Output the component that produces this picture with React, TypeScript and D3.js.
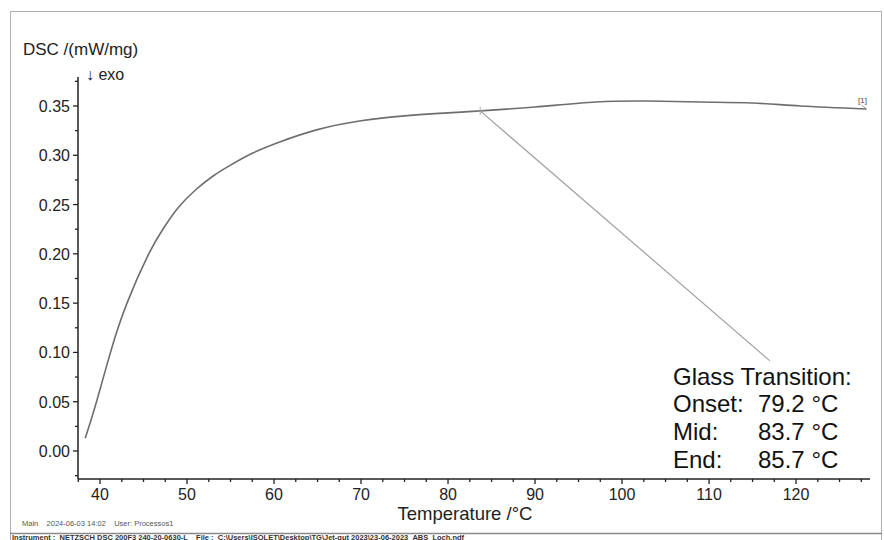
import * as d3 from "d3";
import { useEffect, useRef } from "react";

// DSC curve
const temps = [38.3, 39.6, 41.2, 43.1, 45.6, 47.3, 49.0, 51, 53, 55, 57.5, 60.5, 65, 70, 75, 80, 83.7, 90, 97, 103, 109, 115, 120.5, 128.1];
const dsc = [0.013, 0.05, 0.1, 0.15, 0.2, 0.226, 0.247, 0.265, 0.279, 0.29, 0.302, 0.313, 0.326, 0.335, 0.34, 0.343, 0.345, 0.349, 0.354, 0.355, 0.354, 0.353, 0.35, 0.347];

const xTicks = [40, 50, 60, 70, 80, 90, 100, 110, 120];
const yTicks = [0.0, 0.05, 0.1, 0.15, 0.2, 0.25, 0.3, 0.35];

// glass transition marker and leader end (data units)
const gtPoint = [83.7, 0.345];
const gtLeaderEnd = [117.0, 0.0914];
const gtLines = [
  ["Onset:", "79.2 °C"],
  ["Mid:", "83.7 °C"],
  ["End:", "85.7 °C"],
];

const W = 884;
const H = 540;
const FONT = "'Liberation Sans', Arial, sans-serif";

const App = () => {
  const svgRef = useRef(null);

  useEffect(() => {
    const svg = d3.select(svgRef.current);
    svg.selectAll("*").remove();

    const xScale = d3.scaleLinear().domain([37.47, 128.5]).range([78, 870]);
    const yScale = d3.scaleLinear().domain([-0.0284, 0.3794]).range([479, 77]);

    // outer frame
    svg
      .append("rect")
      .attr("x", 10.5)
      .attr("y", 11.5)
      .attr("width", 871)
      .attr("height", 560)
      .attr("fill", "none")
      .attr("stroke", "#b0b0b0")
      .attr("stroke-width", 1);
    svg
      .append("line")
      .attr("x1", 10)
      .attr("x2", 882)
      .attr("y1", 533.5)
      .attr("y2", 533.5)
      .attr("stroke", "#8a8a8a")
      .attr("stroke-width", 1.5);

    // axes lines
    svg
      .append("line")
      .attr("x1", 78)
      .attr("x2", 78)
      .attr("y1", 77)
      .attr("y2", 479)
      .attr("stroke", "#222")
      .attr("stroke-width", 1.5);
    svg
      .append("line")
      .attr("x1", 78)
      .attr("x2", 870)
      .attr("y1", 479)
      .attr("y2", 479)
      .attr("stroke", "#222")
      .attr("stroke-width", 1.5);

    // x ticks (major + minor every 2.5)
    const xMinor = d3.range(37.5, 128.6, 2.5).filter((v) => v >= 37.47 && v <= 128.5);
    svg
      .selectAll(".xtick")
      .data(xMinor)
      .enter()
      .append("line")
      .attr("x1", (d) => xScale(d))
      .attr("x2", (d) => xScale(d))
      .attr("y1", 479)
      .attr("y2", (d) => (d % 10 === 0 ? 484 : 482))
      .attr("stroke", "#222")
      .attr("stroke-width", 1.3);

    svg
      .selectAll(".xlabel")
      .data(xTicks)
      .enter()
      .append("text")
      .attr("x", (d) => xScale(d))
      .attr("y", 500)
      .attr("text-anchor", "middle")
      .attr("font-family", FONT)
      .attr("font-size", 16)
      .attr("fill", "#222")
      .text((d) => d);

    // y ticks (major + minor every 0.025)
    const yMinor = d3.range(-0.025, 0.376, 0.025).map((v) => Math.round(v * 1000) / 1000);
    svg
      .selectAll(".ytick")
      .data(yMinor)
      .enter()
      .append("line")
      .attr("x1", 78)
      .attr("x2", (d) => (Math.round(d * 1000) % 50 === 0 ? 73 : 75))
      .attr("y1", (d) => yScale(d))
      .attr("y2", (d) => yScale(d))
      .attr("stroke", "#222")
      .attr("stroke-width", 1.3);

    svg
      .selectAll(".ylabel")
      .data(yTicks)
      .enter()
      .append("text")
      .attr("x", 70)
      .attr("y", (d) => yScale(d) + 6)
      .attr("text-anchor", "end")
      .attr("font-family", FONT)
      .attr("font-size", 16)
      .attr("fill", "#222")
      .text((d) => d.toFixed(2));

    // axis titles
    svg
      .append("text")
      .attr("x", 23)
      .attr("y", 55)
      .attr("font-family", FONT)
      .attr("font-size", 17)
      .attr("fill", "#222")
      .text("DSC /(mW/mg)");
    svg
      .append("text")
      .attr("x", 86)
      .attr("y", 80)
      .attr("font-family", FONT)
      .attr("font-size", 16)
      .attr("fill", "#222")
      .text("↓  exo");
    svg
      .append("text")
      .attr("x", 465)
      .attr("y", 520)
      .attr("text-anchor", "middle")
      .attr("font-family", FONT)
      .attr("font-size", 18.5)
      .attr("fill", "#222")
      .text("Temperature /°C");

    // curve
    const pts = temps.map((t, i) => [t, dsc[i]]);
    const line = d3
      .line()
      .x((d) => xScale(d[0]))
      .y((d) => yScale(d[1]))
      .curve(d3.curveNatural);
    svg
      .append("path")
      .attr("d", line(pts))
      .attr("fill", "none")
      .attr("stroke", "#6e6e6e")
      .attr("stroke-width", 1.6);

    // curve label [1]
    const endX = xScale(temps[temps.length - 1]);
    const endY = yScale(dsc[dsc.length - 1]);
    svg
      .append("line")
      .attr("x1", endX)
      .attr("y1", endY)
      .attr("x2", endX - 5)
      .attr("y2", endY - 4)
      .attr("stroke", "#888")
      .attr("stroke-width", 0.8);
    svg
      .append("text")
      .attr("x", endX - 4)
      .attr("y", endY - 6)
      .attr("text-anchor", "middle")
      .attr("font-family", FONT)
      .attr("font-size", 8)
      .attr("fill", "#444")
      .text("[1]");

    // glass transition marker
    const gx = xScale(gtPoint[0]);
    const gy = yScale(gtPoint[1]);
    svg
      .append("line")
      .attr("x1", gx)
      .attr("y1", gy)
      .attr("x2", xScale(gtLeaderEnd[0]))
      .attr("y2", yScale(gtLeaderEnd[1]))
      .attr("stroke", "#a0a0a0")
      .attr("stroke-width", 1.2);
    svg
      .append("path")
      .attr("d", `M${gx - 4},${gy}H${gx + 4}M${gx},${gy - 4}V${gy + 4}`)
      .attr("stroke", "#999")
      .attr("stroke-width", 0.8);

    const ann = svg
      .append("g")
      .attr("font-family", FONT)
      .attr("font-size", 24)
      .attr("fill", "#111");
    ann.append("text").attr("x", 673).attr("y", 385).text("Glass Transition:");
    gtLines.forEach((row, i) => {
      ann.append("text").attr("x", 673).attr("y", 412 + i * 28).text(row[0]);
      ann.append("text").attr("x", 758).attr("y", 412 + i * 28).text(row[1]);
    });

    // footer
    svg
      .append("text")
      .attr("x", 22)
      .attr("y", 526)
      .attr("font-family", FONT)
      .attr("font-size", 7.5)
      .attr("fill", "#555")
      .attr("xml:space", "preserve")
      .text("Main    2024-06-03 14:02    User: Processos1");
    svg
      .append("text")
      .attr("x", 12)
      .attr("y", 539.5)
      .attr("font-family", FONT)
      .attr("font-size", 7.5)
      .attr("font-weight", "bold")
      .attr("fill", "#333")
      .attr("xml:space", "preserve")
      .text("Instrument :  NETZSCH DSC 200F3 240-20-0630-L    File :  C:\\Users\\ISOLET\\Desktop\\TG\\Jet-gut 2023\\23-06-2023_ABS_Loch.ndf");
  }, []);

  return (
    <svg
      ref={svgRef}
      width={W}
      height={H}
      style={{ position: "absolute", left: 0, top: 0, background: "#fff" }}
    ></svg>
  );
};

export default App;
